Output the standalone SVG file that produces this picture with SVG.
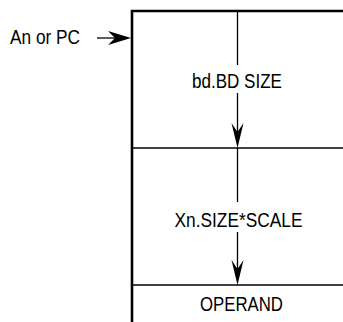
<svg xmlns="http://www.w3.org/2000/svg" width="343" height="322" viewBox="0 0 343 322">
<style>
.lbl{font-family:"Liberation Sans",Arial,sans-serif;font-size:20.5px;fill:#000}
.frame{fill:none;stroke:#000;stroke-width:2.6}
.div{fill:none;stroke:#000;stroke-width:1.5}
.ln{fill:none;stroke:#000;stroke-width:1.3}
.head{fill:#000;stroke:none}
</style>
<rect width="343" height="322" fill="#fff"/>
<g id="memory">
<path class="frame" d="M132 322 V11 H350"/>
<line class="div" x1="132" y1="148" x2="343" y2="148"/>
<line class="div" x1="132" y1="285" x2="343" y2="285"/>
</g>
<g id="node-bd"><text class="lbl" x="237" y="87.5" text-anchor="middle" textLength="90" lengthAdjust="spacingAndGlyphs">bd.BD SIZE</text></g>
<g id="node-xn"><text class="lbl" x="238.5" y="227" text-anchor="middle" textLength="128" lengthAdjust="spacingAndGlyphs">Xn.SIZE*SCALE</text></g>
<g id="node-operand"><text class="lbl" x="241.5" y="311" text-anchor="middle" textLength="83" lengthAdjust="spacingAndGlyphs">OPERAND</text></g>
<g id="node-an"><text class="lbl" x="10" y="44" textLength="70" lengthAdjust="spacingAndGlyphs">An or PC</text></g>
<g id="connectors">
<line class="ln" x1="97" y1="38" x2="118" y2="38"/>
<path class="head" d="M131 38 L108 31 L115 38 L108 45 Z"/>
<line class="ln" x1="237.5" y1="11" x2="237.5" y2="65"/>
<line class="ln" x1="237.5" y1="93" x2="237.5" y2="135"/>
<path class="head" d="M237.5 148 L231.5 123 L237.5 132 L243.5 123 Z"/>
<line class="ln" x1="237.5" y1="148" x2="237.5" y2="202"/>
<line class="ln" x1="237.5" y1="232" x2="237.5" y2="272"/>
<path class="head" d="M237.5 285 L231.5 260 L237.5 269 L243.5 260 Z"/>
</g>
</svg>
